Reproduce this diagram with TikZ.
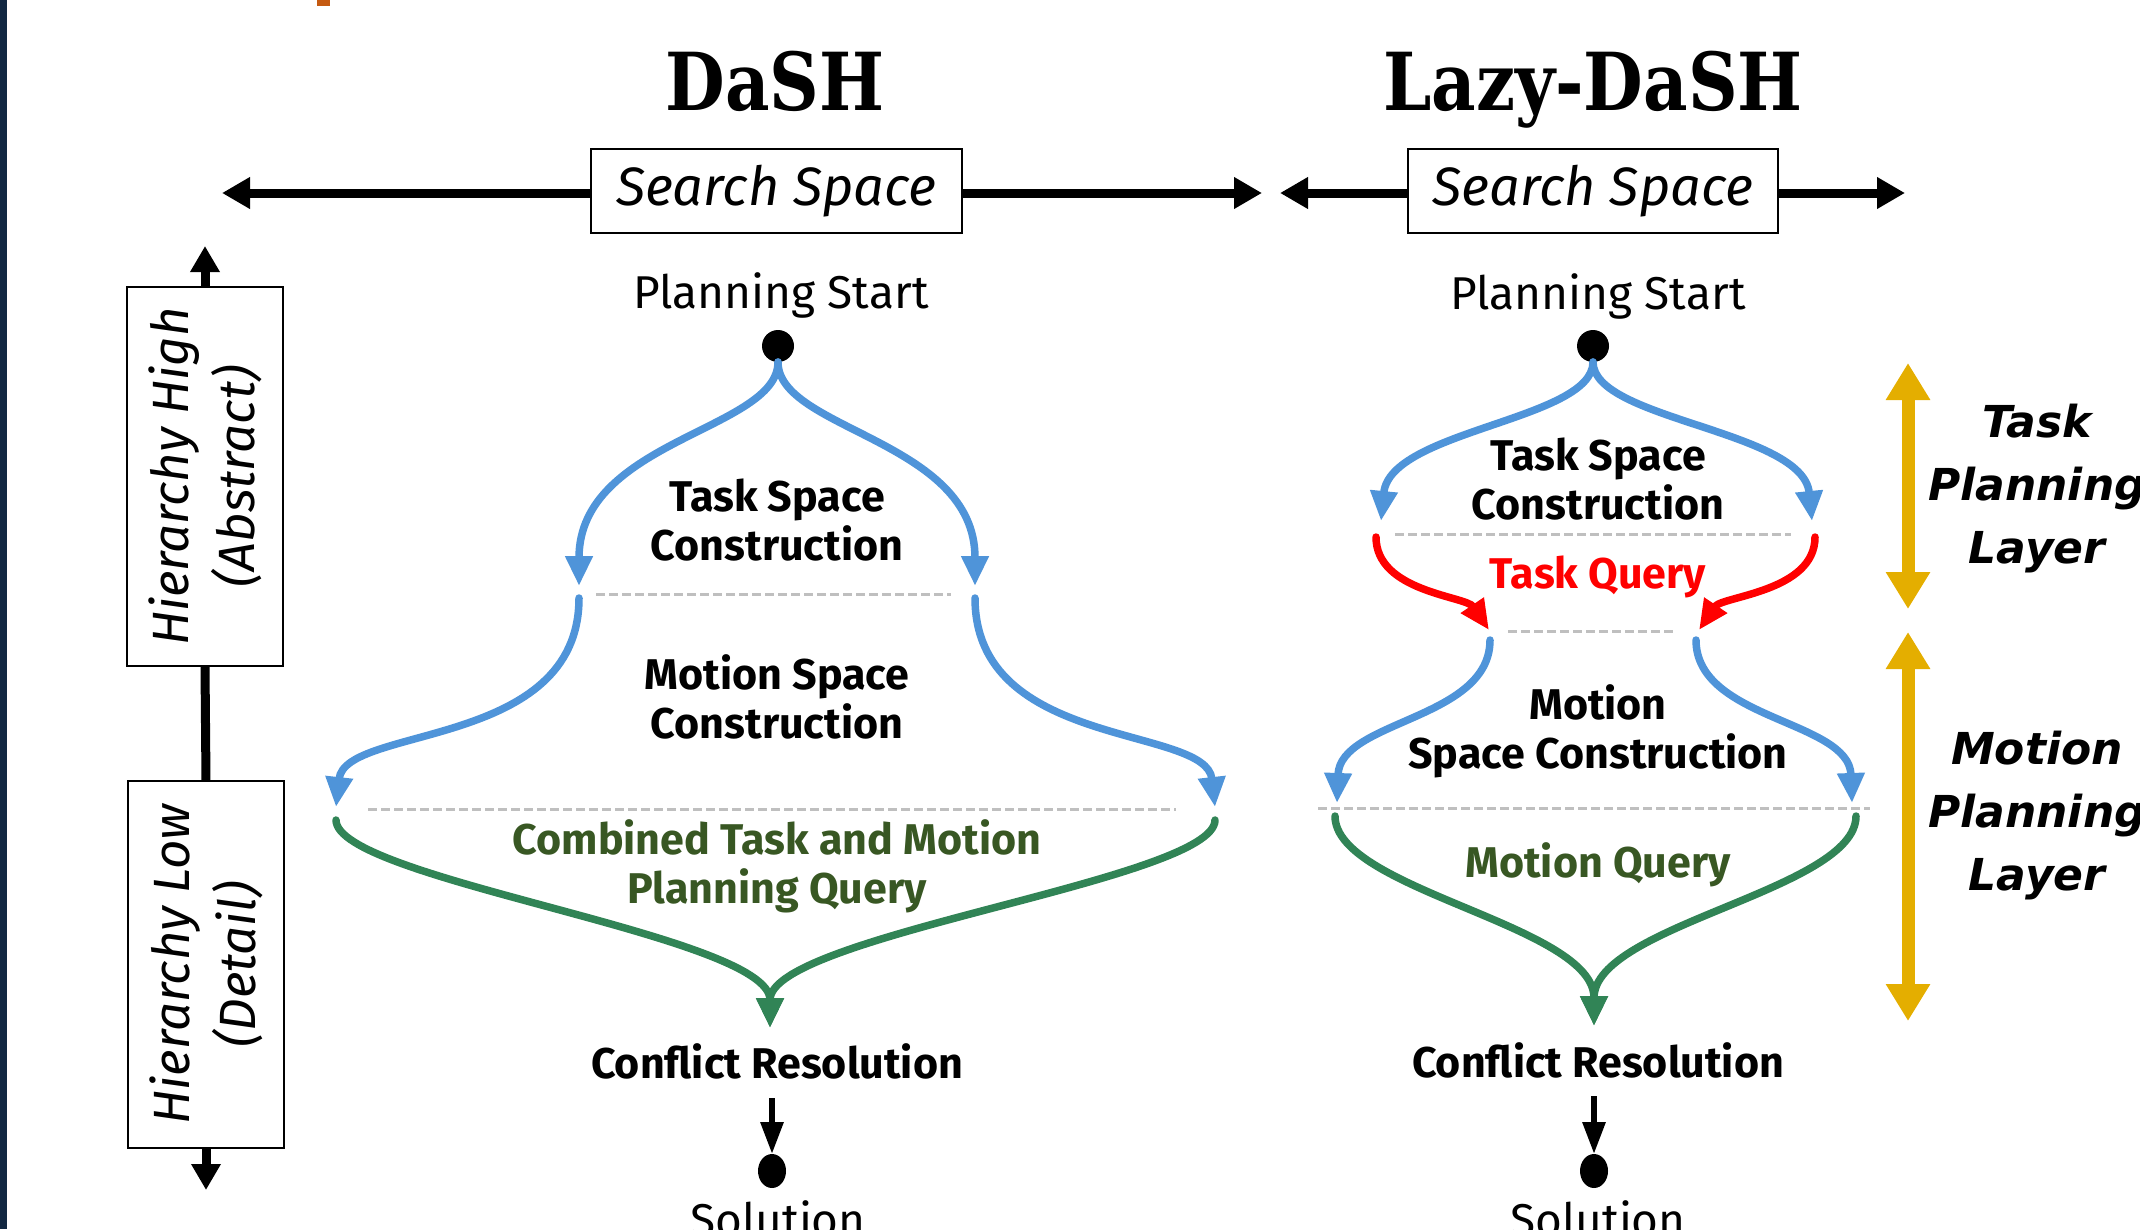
\documentclass[tikz,border=0pt]{standalone}
\usepackage{fontspec}
\setmainfont{Fira Sans}
\newfontfamily\titlefont[FakeStretch=0.86]{DejaVu Serif}
\newfontfamily\layerfont{DejaVu Sans}
\usetikzlibrary{arrows.meta,shapes.geometric}
\definecolor{cblue}{RGB}{79,148,217}
\definecolor{cgreen}{RGB}{49,132,86}
\definecolor{ctgreen}{RGB}{56,87,35}
\definecolor{cred}{RGB}{255,0,0}
\definecolor{cgold}{RGB}{228,174,0}
\definecolor{cgray}{RGB}{191,191,191}
\definecolor{cnavy}{RGB}{18,40,66}
\definecolor{corange}{RGB}{197,90,17}
\begin{document}
\begin{tikzpicture}[x=1pt,y=-1pt,
  every node/.style={inner sep=0pt,outer sep=0pt},
  titlestyle/.style={font=\titlefont\fontsize{80}{90}\selectfont\bfseries},
  searchbox/.style={draw,line width=2pt,minimum height=84pt,font=\fontsize{54}{60}\selectfont\itshape},
  plain/.style={font=\fontsize{46}{56}\selectfont},
  lbl/.style={font=\fontsize{43}{49}\selectfont\bfseries,align=center},
  hier/.style={draw,line width=2pt,rotate=90,minimum height=156pt,align=center,font=\fontsize{51}{66}\selectfont\itshape},
  layer/.style={font=\layerfont\fontsize{44}{63}\selectfont\bfseries\itshape,align=center},
  dot/.style={circle,fill=black,minimum size=32pt},
  edot/.style={ellipse,fill=black,minimum width=28pt,minimum height=34pt},
  harr/.style={line width=9pt,-{Triangle[length=28pt,width=30pt]}},
  varr/.style={line width=9pt,-{Triangle[length=26pt,width=28pt]}},
  darr/.style={line width=6pt,-{Triangle[length=32pt,width=22pt]}},
  bluearr/.style={draw=cblue,line width=7.5pt,line cap=round,-{Triangle[length=30pt,width=26pt]}},
  redarr/.style={draw=cred,line width=7.5pt,line cap=round,-{Triangle[length=30pt,width=26pt]}},
  greenarr/.style={draw=cgreen,line width=7.5pt,line cap=round,-{Triangle[length=30pt,width=26pt]}},
  goldarr/.style={draw=cgold,line width=13pt,{Triangle[length=37pt,width=42pt]}-{Triangle[length=37pt,width=42pt]}},
  sep/.style={draw=cgray,line width=3pt,dash pattern=on 9pt off 4pt}
]
\useasboundingbox (0,0) rectangle (2140,1229);
\fill[cnavy] (0,0) rectangle (7,1229);
\fill[corange] (317,0) rectangle (330,6);

% titles
\node[titlestyle,anchor=base] (t1) at (775,110) {DaSH};
\node[titlestyle,anchor=base] (t2) at (1593,110) {Lazy-DaSH};

% search space
\node[searchbox,minimum width=371pt] (s1) at (776.5,191) {Search Space};
\node[searchbox,minimum width=370pt] (s2) at (1593,191) {Search Space};
\coordinate (la1) at (222,193);
\coordinate (ra1) at (1262,193);
\coordinate (la2) at (1280,193);
\coordinate (ra2) at (1905,193);
\draw[harr] (s1.west |- la1) -- (la1);
\draw[harr] (s1.east |- ra1) -- (ra1);
\draw[harr] (s2.west |- la2) -- (la2);
\draw[harr] (s2.east |- ra2) -- (ra2);

% hierarchy
\node[hier,minimum width=379pt] (hh) at (205,476.5) {Hierarchy High\\(Abstract)};
\node[hier,minimum width=367pt] (hl) at (206,964.5) {Hierarchy Low\\(Detail)};
\coordinate (hup) at (205,246);
\coordinate (hdn) at (206,1190);
\draw[varr] (hh.east) -- (hup);
\draw[line width=9pt] (hh.west) -- (hl.east);
\draw[varr] (hl.west) -- (hdn);

% ---------------- DaSH ----------------
\node[plain] (ps1) at (781,295) {Planning Start};
\node[dot] (d1) at (778,346) {};
\coordinate (a1) at (579,586);
\coordinate (a2) at (975,586);
\coordinate (b1) at (579,598);
\coordinate (b2) at (975,598);
\coordinate (c1) at (336,807);
\coordinate (c2) at (1215,807);
\coordinate (e1) at (336,820);
\coordinate (e2) at (1215,820);
\coordinate (f1) at (770,1028);
\draw[bluearr] (d1.south) .. controls (778,430) and (579,440) .. (a1);
\draw[bluearr] (d1.south) .. controls (778,430) and (975,440) .. (a2);
\coordinate (s1a) at (596,594);
\coordinate (s1b) at (951,594);
\draw[sep] (s1a) -- (s1b);
\draw[bluearr] (b1) .. controls (579,750) and (345,725) .. (c1);
\draw[bluearr] (b2) .. controls (975,750) and (1206,725) .. (c2);
\coordinate (s2a) at (368,809);
\coordinate (s2b) at (1176,809);
\draw[sep] (s2a) -- (s2b);
\draw[greenarr] (e1) .. controls (336,880) and (770,935) .. (f1);
\draw[greenarr] (e2) .. controls (1215,880) and (770,935) .. (f1);
\node[lbl] (tsc1) at (777,520) {Task Space\\Construction};
\node[lbl] (msc1) at (777,697) {Motion Space\\Construction};
\node[lbl,text=ctgreen] (cq1) at (777,866) {Combined Task and Motion\\Planning Query};
\node[lbl] (cr1) at (777,1061) {Conflict Resolution};
\coordinate (ca1) at (772,1098);
\node[edot] (sd1) at (772,1171) {};
\draw[darr] (ca1) -- (sd1.north);
\node[plain,anchor=north] (so1) at (778,1201) {Solution};

% ---------------- Lazy-DaSH ----------------
\node[plain] (ps2) at (1598,296) {Planning Start};
\node[dot] (d2) at (1593,346) {};
\coordinate (g1) at (1381,521);
\coordinate (g2) at (1812,521);
\coordinate (h1) at (1376,537);
\coordinate (h2) at (1815,537);
\coordinate (i1) at (1489,630);
\coordinate (i2) at (1699,630);
\coordinate (j1) at (1490,640);
\coordinate (j2) at (1696,640);
\coordinate (k1) at (1337,803);
\coordinate (k2) at (1852,803);
\coordinate (m1) at (1335,816);
\coordinate (m2) at (1856,816);
\coordinate (n1) at (1594,1026);
\draw[bluearr] (d2.south) .. controls (1593,420) and (1390,430) .. (g1);
\draw[bluearr] (d2.south) .. controls (1593,420) and (1803,430) .. (g2);
\coordinate (s3a) at (1395,534);
\coordinate (s3b) at (1791,534);
\draw[sep] (s3a) -- (s3b);
\draw[redarr] (h1) .. controls (1376,592) and (1466,596) .. (i1);
\draw[redarr] (h2) .. controls (1815,592) and (1722,596) .. (i2);
\coordinate (s4a) at (1508,631);
\coordinate (s4b) at (1676,631);
\draw[sep] (s4a) -- (s4b);
\draw[bluearr] (j1) .. controls (1490,720) and (1340,720) .. (k1);
\draw[bluearr] (j2) .. controls (1696,720) and (1849,720) .. (k2);
\coordinate (s5a) at (1318,808);
\coordinate (s5b) at (1870,808);
\draw[sep] (s5a) -- (s5b);
\draw[greenarr] (m1) .. controls (1335,890) and (1594,925) .. (n1);
\draw[greenarr] (m2) .. controls (1856,890) and (1594,925) .. (n1);
\node[lbl] (tsc2) at (1598,479) {Task Space\\Construction};
\node[lbl,text=cred] (tq2) at (1598,577) {Task Query};
\node[lbl] (msc2) at (1598,731) {Motion\\Space Construction};
\node[lbl,text=ctgreen] (mq2) at (1598,865) {Motion Query};
\node[lbl] (cr2) at (1598,1060) {Conflict Resolution};
\coordinate (ca2) at (1594,1096);
\node[edot] (sd2) at (1594,1171) {};
\draw[darr] (ca2) -- (sd2.north);
\node[plain,anchor=north] (so2) at (1598,1201) {Solution};

% layers
\coordinate (ya) at (1908,363);
\coordinate (yb) at (1908,609);
\coordinate (yc) at (1908,632);
\coordinate (yd) at (1908,1021);
\draw[goldarr] (ya) -- (yb);
\draw[goldarr] (yc) -- (yd);
\node[layer] (tl) at (2037,489) {Task\\Planning\\Layer};
\node[layer] (ml) at (2037,816) {Motion\\Planning\\Layer};
\end{tikzpicture}
\end{document}
